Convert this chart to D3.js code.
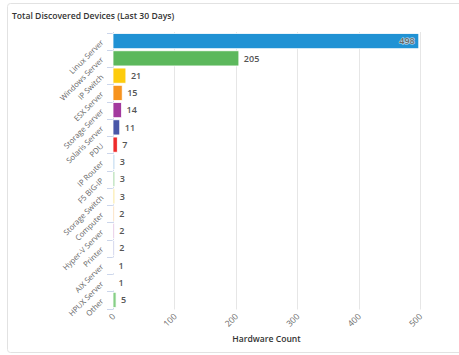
<!DOCTYPE html>
<html><head><meta charset="utf-8">
<script src="https://cdn.jsdelivr.net/npm/d3@7"></script>
<style>
html,body{margin:0;padding:0;background:#fff;}
svg{display:block;font-family:"Open Sans",sans-serif;}
</style></head>
<body>
<svg id="c" width="459" height="355"></svg>
<script>
const categories = ["Linux Server","Windows Server","IP Switch","ESX Server","Storage Server","Solaris Server","PDU","IP Router","F5 BIG-IP","Storage Switch","Computer","Hyper-V Server","Printer","AIX Server","HPUX Server","Other"];
const values = [498,205,21,15,14,11,7,3,3,3,2,2,2,1,1,5];
const colors = ["#2092d4","#5cb85c","#fdcc0d","#f7931e","#a3399e","#4a57a8","#ee2a2a","#b9d6ee","#a6d8a6","#fbe89c","#f8cf9f","#dbaed8","#b7bbe1","#f4aaaa","#c3def2","#86cf86"];
const xTicks = [0,100,200,300,400,500];
const title = "Total Discovered Devices (Last 30 Days)";
const xTitle = "Hardware Count";

(function(){
const svg = d3.select("#c");
svg.append("rect").attr("x",7.5).attr("y",3.5).attr("width",470).attr("height",349).attr("rx",3)
  .attr("fill","#fff").attr("stroke","#e2e2e2");
svg.append("text").attr("x",12).attr("y",18.5).attr("font-size",8.6).attr("font-weight",600)
  .attr("fill","#333").text(title);

const x = d3.scaleLinear().domain([0,500]).range([113,420]);
const y = d3.scaleBand().domain(categories).range([32.5,308.5]).paddingInner(0.12).paddingOuter(0.06);
const pTop = 32, pBottom = 309.5;

// grid
svg.append("g").selectAll("line").data(xTicks.filter(d=>d>0)).join("line")
  .attr("x1",d=>Math.round(x(d))+0.5).attr("x2",d=>Math.round(x(d))+0.5)
  .attr("y1",pTop).attr("y2",pBottom).attr("stroke","#e6e6e6").attr("stroke-width",1);

// x tick labels
svg.append("g").selectAll("text").data(xTicks).join("text")
  .attr("transform",d=>`translate(${x(d)+3},${317}) rotate(-45)`)
  .attr("text-anchor","end").attr("font-size",8.5).attr("fill","#666").text(d=>d);

svg.append("text").attr("x",(x(0)+x(500))/2).attr("y",342).attr("text-anchor","middle")
  .attr("font-size",8.6).attr("font-weight",600).attr("fill","#333").text(xTitle);

// y axis line and ticks
svg.append("line").attr("x1",113.5).attr("x2",113.5).attr("y1",pTop).attr("y2",pBottom)
  .attr("stroke","#ccd6eb");
const pad = y.step()*y.paddingInner()/2;
const bounds = categories.map(c=>y(c)-pad).concat([y(categories[categories.length-1])+y.bandwidth()+pad]);
svg.append("g").selectAll("line").data(bounds).join("line")
  .attr("x1",107).attr("x2",113).attr("y1",d=>Math.round(d)+0.5).attr("y2",d=>Math.round(d)+0.5)
  .attr("stroke","#ccd6eb");

// category labels
svg.append("g").selectAll("text").data(categories).join("text")
  .attr("transform",d=>`translate(${104},${y(d)+y.bandwidth()/2+2}) rotate(-45)`)
  .attr("text-anchor","end").attr("font-size",7.7).attr("fill","#666").text(d=>d);

// bars
const data = categories.map((c,i)=>({c,v:values[i],col:colors[i]}));
svg.append("g").selectAll("rect").data(data).join("rect")
  .attr("x",x(0)).attr("y",d=>y(d.c)).attr("width",d=>x(d.v)-x(0)).attr("height",y.bandwidth())
  .attr("fill",d=>d.col).attr("stroke","#fff").attr("stroke-width",0.8);

// value labels
svg.append("g").selectAll("text").data(data).join("text")
  .attr("x",d=> d.v>400 ? x(d.v)-4 : x(d.v)+5)
  .attr("y",d=>y(d.c)+y.bandwidth()/2+3.3)
  .attr("text-anchor",d=> d.v>400 ? "end":"start")
  .attr("font-size",9).attr("font-weight",600)
  .attr("fill",d=> d.v>400 ? "#666" : "#555")
  .attr("stroke",d=> d.v>400 ? "rgba(255,255,255,0.7)" : "none").attr("stroke-width",1.2)
  .attr("paint-order","stroke")
  .text(d=>d.v);
})();
</script>
</body></html>
